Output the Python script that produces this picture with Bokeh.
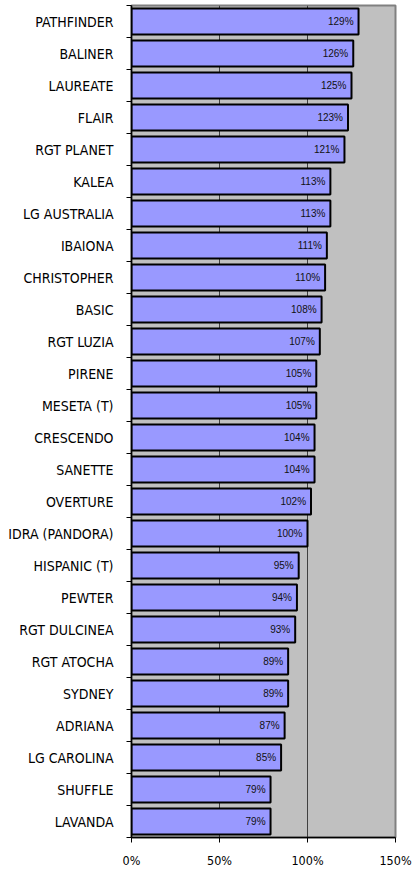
from bokeh.plotting import figure
from bokeh.models import FixedTicker, NumeralTickFormatter, ColumnDataSource, Range1d
from bokeh.core.properties import value
from bokeh.embed import file_html
from bokeh.resources import INLINE

varieties = ["PATHFINDER", "BALINER", "LAUREATE", "FLAIR", "RGT PLANET", "KALEA",
             "LG AUSTRALIA", "IBAIONA", "CHRISTOPHER", "BASIC", "RGT LUZIA", "PIRENE",
             "MESETA (T)", "CRESCENDO", "SANETTE", "OVERTURE", "IDRA (PANDORA)",
             "HISPANIC (T)", "PEWTER", "RGT DULCINEA", "RGT ATOCHA", "SYDNEY",
             "ADRIANA", "LG CAROLINA", "SHUFFLE", "LAVANDA"]
yields_pct = [129, 126, 125, 123, 121, 113, 113, 111, 110, 108, 107, 105, 105, 104,
              104, 102, 100, 95, 94, 93, 89, 89, 87, 85, 79, 79]
x_ticks = [0, 0.5, 1.0, 1.5]

FONT = "DejaVu Sans Condensed"

n = len(varieties)
ypos = [n - i - 0.5 for i in range(n)]
src = ColumnDataSource(dict(
    y=ypos,
    right=[v / 100 for v in yields_pct],
    label=[f"{v}%" for v in yields_pct],
))

p = figure(width=415, height=870, output_backend="svg", toolbar_location=None,
           x_range=Range1d(0, 1.5), y_range=Range1d(0, n),
           min_border_left=131, min_border_right=20, min_border_top=5,
           min_border_bottom=31)
p.background_fill_color = "#c0c0c0"
p.border_fill_color = "white"
p.outline_line_color = "#808080"
p.outline_line_width = 2

p.hbar(y="y", left=0, right="right", height=0.82, source=src,
       fill_color="#9999ff", line_color="black", line_width=2)
p.text(x="right", y="y", text="label", source=src, x_offset=-5,
       text_align="right", text_baseline="middle",
       text_font=value("Liberation Sans"), text_font_size="10px", text_color="#111111")

# x axis
xa = p.xaxis[0]
xa.ticker = FixedTicker(ticks=x_ticks)
xa.formatter = NumeralTickFormatter(format="0%")
xa.major_tick_out = 5
xa.major_tick_in = 0
xa.minor_tick_line_color = None
xa.axis_line_color = "black"
xa.axis_line_width = 1.5
xa.major_tick_line_color = "black"
xa.major_label_standoff = 10
xa.major_label_text_font = FONT
xa.major_label_text_font_size = "12.5px"
xa.major_label_text_color = "black"

# y axis: labels at centers, ticks between categories
ya = p.yaxis[0]
ya.ticker = FixedTicker(ticks=ypos, minor_ticks=list(range(n + 1)))
ya.major_label_overrides = {y: name for y, name in zip(ypos, varieties)}
ya.major_tick_line_color = None
ya.major_tick_out = 0
ya.major_tick_in = 0
ya.minor_tick_out = 5
ya.minor_tick_in = 0
ya.minor_tick_line_color = "black"
ya.axis_line_color = "black"
ya.axis_line_width = 1.5
ya.major_label_standoff = 13
ya.major_label_text_font = FONT
ya.major_label_text_font_size = "14px"
ya.major_label_text_color = "black"

p.xgrid.ticker = FixedTicker(ticks=[0.5, 1.0])
p.xgrid.grid_line_color = "#404040"
p.xgrid.grid_line_width = 1
p.ygrid.grid_line_color = None

open("out.html", "w").write(file_html(p, INLINE))
